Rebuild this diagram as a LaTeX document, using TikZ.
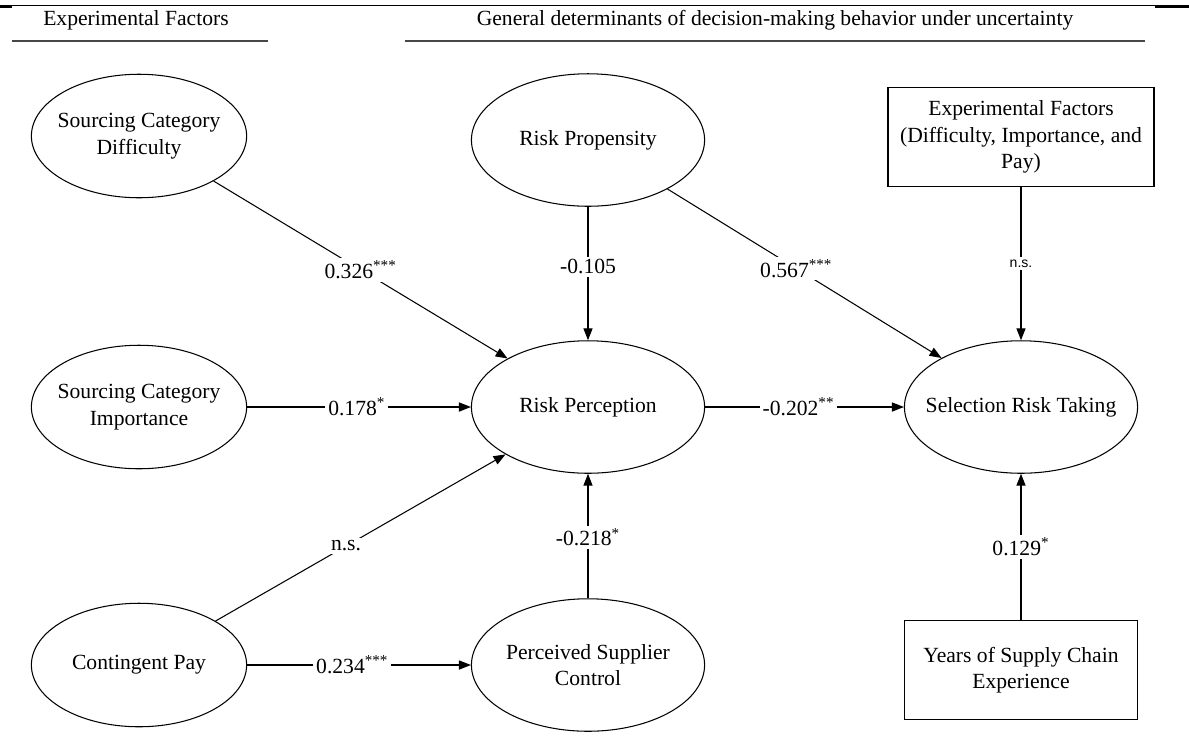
\documentclass[tikz,border=0pt]{standalone}
\usepackage{fontspec}
\setmainfont{Liberation Serif}
\newfontfamily\nsfont{Liberation Sans}
\usetikzlibrary{shapes.geometric,arrows.meta}
\begin{document}
\begin{tikzpicture}[x=0.02cm,y=-0.02cm,
  font=\fontsize{12.3}{15}\selectfont,
  lv/.style={ellipse,draw,line width=0.6pt,inner sep=0pt},
  lvs/.style={lv,minimum width=122.5pt,minimum height=70.3pt},
  lvb/.style={lv,minimum width=132.7pt,minimum height=75.4pt},
  intext/.style={align=center,inner sep=0pt},
  obs/.style={draw,line width=0.6pt,align=center,inner sep=0pt},
  conn/.style={draw,line width=0.6pt,-{Triangle[length=6.8pt,width=5.2pt]}},
  coef/.style={fill=white,inner sep=1.6pt},
  nsl/.style={fill=white,inner sep=1.6pt,font=\nsfont\fontsize{8}{9.6}\selectfont},
  rule/.style={line width=1.1pt,color=black!72},
]
\useasboundingbox (0,0) rectangle (1189,755);

% top rule
\draw[line width=1pt] (0,5.5) -- (1189,5.5);
\draw[line width=1.6pt] (0,6.5) -- (12,6.5);
\draw[line width=1.6pt] (1155,6.5) -- (1189,6.5);

% headers
\node (h1) at (136,20) {Experimental Factors};
\coordinate (u1a) at (12,41); \coordinate (u1b) at (268,41);
\draw[rule] (u1a) -- (u1b);
\node (h2) at (775,20) {General determinants of decision-making behavior under uncertainty};
\coordinate (u2a) at (405,41); \coordinate (u2b) at (1145,41);
\draw[rule] (u2a) -- (u2b);

% latent variables
\node[lvs, label={[intext]center:Sourcing Category\\Difficulty}] (dif) at (139,136) {};
\node[lvs, label={[intext]center:Sourcing Category\\Importance}] (imp) at (139,407) {};
\node[lvs, label={[intext]center:Contingent Pay}] (con) at (139,665) {};
\node[lvb, label={[intext]center:Risk Propensity}] (pro) at (588,140) {};
\node[lvb, label={[intext]center:Risk Perception}] (per) at (588,407) {};
\node[lvb, label={[intext]center:Perceived Supplier\\Control}] (psc) at (588,665) {};
\node[lvb, label={[intext]center:Selection Risk Taking}] (sel) at (1021,407) {};

% observed boxes
\node[obs, minimum width=151.4pt, minimum height=56.7pt] (exf) at (1021,137)
  {Experimental Factors\\(Difficulty, Importance, and\\Pay)};
\node[obs, minimum width=132.7pt, minimum height=56.1pt] (yrs) at (1021,670)
  {Years of Supply Chain\\Experience};

% paths
\draw[conn] (dif) -- node[coef,pos=0.5]{0.326\textsuperscript{***}} (per);
\draw[conn] (imp) -- node[coef,pos=0.49]{0.178\textsuperscript{*}} (per);
\draw[conn] (con) -- node[coef,pos=0.45]{n.s.} (per);
\draw[conn] (con) -- node[coef,pos=0.47]{0.234\textsuperscript{***}} (psc);
\draw[conn] (pro) -- node[coef,pos=0.45]{-0.105} (per);
\draw[conn] (psc) -- node[coef,pos=0.49]{-0.218\textsuperscript{*}} (per);
\draw[conn] (pro) -- node[coef,pos=0.47]{0.567\textsuperscript{***}} (sel);
\draw[conn] (per) -- node[coef,pos=0.47]{-0.202\textsuperscript{**}} (sel);
\draw[conn] (exf) -- node[nsl,pos=0.5]{n.s.} (sel);
\draw[conn] (yrs) -- node[coef,pos=0.5]{0.129\textsuperscript{*}} (sel);
\end{tikzpicture}
\end{document}
